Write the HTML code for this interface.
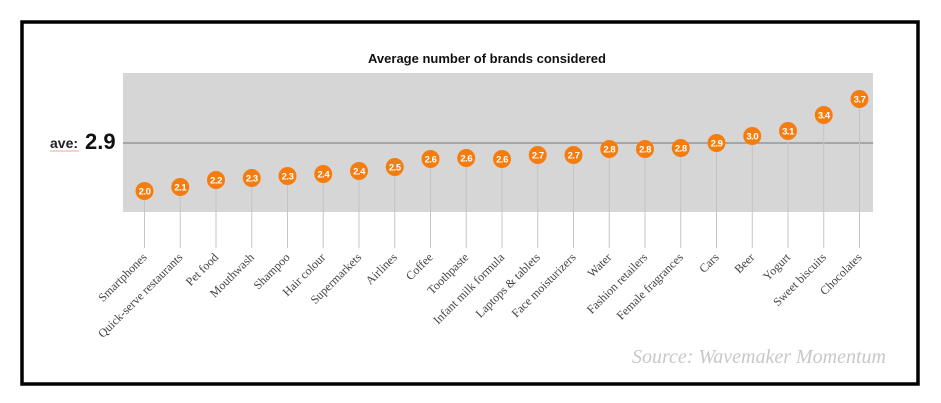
<!DOCTYPE html>
<html><head><meta charset="utf-8"><style>
html,body{margin:0;padding:0;background:#fff;width:941px;height:403px;overflow:hidden}
svg{display:block}
.v{font-family:"Liberation Sans",sans-serif;font-size:9.5px;font-weight:bold;fill:#fff;text-anchor:middle;letter-spacing:-0.5px}
.l{font-family:"Liberation Serif",serif;font-size:12px;fill:#444;text-anchor:end}
.s{stroke:#c4c4c4;stroke-width:1}
.c{fill:#f57d10}
</style></head><body>
<svg width="941" height="403" xmlns="http://www.w3.org/2000/svg">
<rect x="22" y="22" width="896" height="362" fill="#fff" stroke="#000" stroke-width="3.5"/>
<text x="487" y="63" text-anchor="middle" font-family="Liberation Sans, sans-serif" font-weight="bold" font-size="13" fill="#111">Average number of brands considered</text>
<rect x="123" y="73" width="750" height="139" fill="#d6d6d6"/>
<line x1="123" y1="143" x2="873" y2="143" stroke="#8a8a8a" stroke-width="1.2"/>
<text x="50" y="148" font-family="Liberation Sans, sans-serif" font-weight="bold" font-size="14" fill="#222">ave:</text>
<line x1="50" y1="151" x2="79" y2="151" stroke="#e88" stroke-width="0.8"/>
<text x="85" y="149" font-family="Liberation Sans, sans-serif" font-weight="bold" font-size="22" fill="#111">2.9</text>

<line class="s" x1="144.5" y1="191" x2="144.5" y2="248"/><circle class="c" cx="144.5" cy="191" r="9"/><text class="v" x="144.5" y="194.5">2.0</text><text class="l" transform="translate(147.5,258) rotate(-45)">Smartphones</text>
<line class="s" x1="180.25" y1="187" x2="180.25" y2="248"/><circle class="c" cx="180.25" cy="187" r="9"/><text class="v" x="180.25" y="190.5">2.1</text><text class="l" transform="translate(183.25,258) rotate(-45)">Quick-serve restaurants</text>
<line class="s" x1="216" y1="180" x2="216" y2="248"/><circle class="c" cx="216" cy="180" r="9"/><text class="v" x="216" y="183.5">2.2</text><text class="l" transform="translate(219,258) rotate(-45)">Pet food</text>
<line class="s" x1="251.75" y1="178" x2="251.75" y2="248"/><circle class="c" cx="251.75" cy="178" r="9"/><text class="v" x="251.75" y="181.5">2.3</text><text class="l" transform="translate(254.75,258) rotate(-45)">Mouthwash</text>
<line class="s" x1="287.5" y1="176" x2="287.5" y2="248"/><circle class="c" cx="287.5" cy="176" r="9"/><text class="v" x="287.5" y="179.5">2.3</text><text class="l" transform="translate(290.5,258) rotate(-45)">Shampoo</text>
<line class="s" x1="323.25" y1="174" x2="323.25" y2="248"/><circle class="c" cx="323.25" cy="174" r="9"/><text class="v" x="323.25" y="177.5">2.4</text><text class="l" transform="translate(326.25,258) rotate(-45)">Hair colour</text>
<line class="s" x1="359" y1="171" x2="359" y2="248"/><circle class="c" cx="359" cy="171" r="9"/><text class="v" x="359" y="174.5">2.4</text><text class="l" transform="translate(362,258) rotate(-45)">Supermarkets</text>
<line class="s" x1="394.75" y1="167" x2="394.75" y2="248"/><circle class="c" cx="394.75" cy="167" r="9"/><text class="v" x="394.75" y="170.5">2.5</text><text class="l" transform="translate(397.75,258) rotate(-45)">Airlines</text>
<line class="s" x1="430.5" y1="159" x2="430.5" y2="248"/><circle class="c" cx="430.5" cy="159" r="9"/><text class="v" x="430.5" y="162.5">2.6</text><text class="l" transform="translate(433.5,258) rotate(-45)">Coffee</text>
<line class="s" x1="466.25" y1="158" x2="466.25" y2="248"/><circle class="c" cx="466.25" cy="158" r="9"/><text class="v" x="466.25" y="161.5">2.6</text><text class="l" transform="translate(469.25,258) rotate(-45)">Toothpaste</text>
<line class="s" x1="502" y1="159" x2="502" y2="248"/><circle class="c" cx="502" cy="159" r="9"/><text class="v" x="502" y="162.5">2.6</text><text class="l" transform="translate(505,258) rotate(-45)">Infant milk formula</text>
<line class="s" x1="537.75" y1="155" x2="537.75" y2="248"/><circle class="c" cx="537.75" cy="155" r="9"/><text class="v" x="537.75" y="158.5">2.7</text><text class="l" transform="translate(540.75,258) rotate(-45)">Laptops &amp; tablets</text>
<line class="s" x1="573.5" y1="155" x2="573.5" y2="248"/><circle class="c" cx="573.5" cy="155" r="9"/><text class="v" x="573.5" y="158.5">2.7</text><text class="l" transform="translate(576.5,258) rotate(-45)">Face moisturizers</text>
<line class="s" x1="609.25" y1="149" x2="609.25" y2="248"/><circle class="c" cx="609.25" cy="149" r="9"/><text class="v" x="609.25" y="152.5">2.8</text><text class="l" transform="translate(612.25,258) rotate(-45)">Water</text>
<line class="s" x1="645" y1="149" x2="645" y2="248"/><circle class="c" cx="645" cy="149" r="9"/><text class="v" x="645" y="152.5">2.8</text><text class="l" transform="translate(648,258) rotate(-45)">Fashion retailers</text>
<line class="s" x1="680.75" y1="148" x2="680.75" y2="248"/><circle class="c" cx="680.75" cy="148" r="9"/><text class="v" x="680.75" y="151.5">2.8</text><text class="l" transform="translate(683.75,258) rotate(-45)">Female fragrances</text>
<line class="s" x1="716.5" y1="143" x2="716.5" y2="248"/><circle class="c" cx="716.5" cy="143" r="9"/><text class="v" x="716.5" y="146.5">2.9</text><text class="l" transform="translate(719.5,258) rotate(-45)">Cars</text>
<line class="s" x1="752.25" y1="136" x2="752.25" y2="248"/><circle class="c" cx="752.25" cy="136" r="9"/><text class="v" x="752.25" y="139.5">3.0</text><text class="l" transform="translate(755.25,258) rotate(-45)">Beer</text>
<line class="s" x1="788" y1="131" x2="788" y2="248"/><circle class="c" cx="788" cy="131" r="9"/><text class="v" x="788" y="134.5">3.1</text><text class="l" transform="translate(791,258) rotate(-45)">Yogurt</text>
<line class="s" x1="823.75" y1="115" x2="823.75" y2="248"/><circle class="c" cx="823.75" cy="115" r="9"/><text class="v" x="823.75" y="118.5">3.4</text><text class="l" transform="translate(826.75,258) rotate(-45)">Sweet biscuits</text>
<line class="s" x1="859.5" y1="99" x2="859.5" y2="248"/><circle class="c" cx="859.5" cy="99" r="9"/><text class="v" x="859.5" y="102.5">3.7</text><text class="l" transform="translate(862.5,258) rotate(-45)">Chocolates</text>

<text x="886" y="363" text-anchor="end" font-family="Liberation Serif, serif" font-style="italic" font-size="20" fill="#c8c8c8">Source: Wavemaker Momentum</text>
</svg>
</body></html>
